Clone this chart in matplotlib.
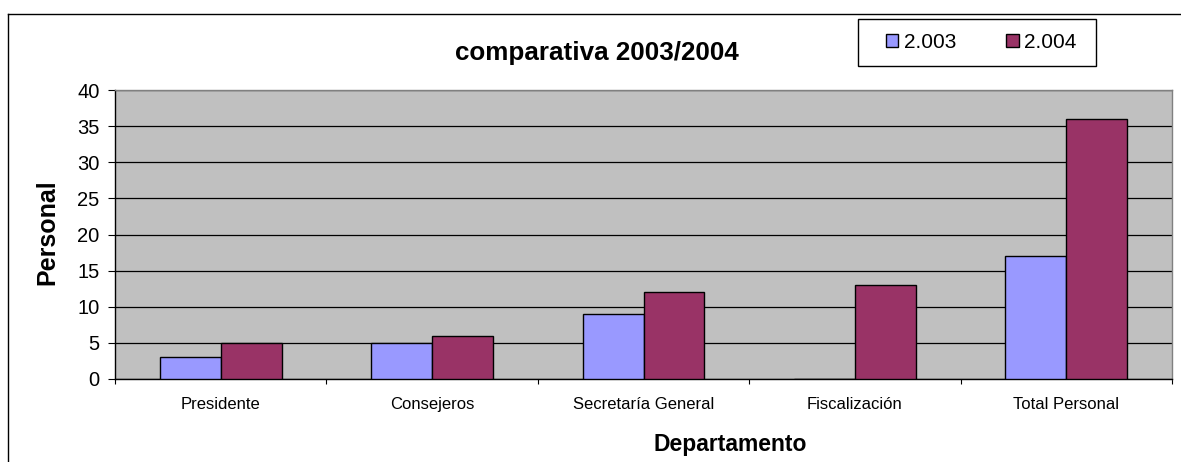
import matplotlib
matplotlib.use("Agg")
import matplotlib.pyplot as plt
import numpy as np
from matplotlib.lines import Line2D
from matplotlib.patches import Rectangle

plt.rcParams['font.family'] = ['Liberation Sans', 'DejaVu Sans']

categories = ["Presidente", "Consejeros", "Secretaría General", "Fiscalización", "Total Personal"]
series_names = ["2.003", "2.004"]
values_2003 = [3, 5, 9, 0, 17]
values_2004 = [5, 6, 12, 13, 36]
yticks = [0, 5, 10, 15, 20, 25, 30, 35, 40]

W, H = 1181, 462
fig = plt.figure(figsize=(W / 100, H / 100), dpi=100)
fig.patch.set_facecolor("white")

# outer chart border (top and left visible)
fig.add_artist(Line2D([8 / W, 1.0], [1 - 14 / H, 1 - 14 / H], color="black", lw=1.0, transform=fig.transFigure))
fig.add_artist(Line2D([8 / W, 8 / W], [0, 1 - 14 / H], color="black", lw=1.0, transform=fig.transFigure))

x0, x1, y0, y1 = 115, 1172, 90, 379
ax = fig.add_axes([x0 / W, 1 - y1 / H, (x1 - x0) / W, (y1 - y0) / H])
ax.set_facecolor("#C0C0C0")

x = np.arange(len(categories))
bw = 0.288
ax.bar(x - bw / 2, values_2003, bw, color="#9999FF", edgecolor="black", linewidth=1.0, label=series_names[0], zorder=3)
ax.bar(x + bw / 2, values_2004, bw, color="#993366", edgecolor="black", linewidth=1.0, label=series_names[1], zorder=3)

ax.set_xlim(-0.5, len(categories) - 0.5)
ax.set_ylim(0, 40)
ax.set_yticks(yticks)
ax.set_yticklabels([str(t) for t in yticks], fontsize=14.5)
ax.yaxis.grid(True, color="black", linewidth=0.9, zorder=1)
ax.set_axisbelow(True)

ax.set_xticks(np.arange(len(categories) + 1) - 0.5, minor=False)
ax.set_xticklabels([])
ax.set_xticks(x, minor=True)
ax.set_xticklabels(categories, minor=True, fontsize=12)
ax.tick_params(axis="x", which="minor", length=0, pad=13)
ax.tick_params(axis="x", which="major", length=3.5, direction="out", color="black")
ax.tick_params(axis="y", length=5, direction="out", color="black", pad=6)

for s in ["top", "right"]:
    ax.spines[s].set_color("#808080")
    ax.spines[s].set_linewidth(1.0)
for s in ["left", "bottom"]:
    ax.spines[s].set_color("black")
    ax.spines[s].set_linewidth(1.0)

aw, ah = x1 - x0, y1 - y0
ax.set_ylabel("Personal", fontsize=18, fontweight="bold", va="center", ha="center")
ax.yaxis.set_label_coords((47 - x0) / aw, (y1 - 232) / ah)
ax.set_xlabel("Departamento", fontsize=16.5, fontweight="bold", va="center", ha="center")
ax.xaxis.set_label_coords((730 - x0) / aw, (y1 - 444) / ah)

fig.text(597 / W, 1 - 53 / H, "comparativa 2003/2004", ha="center", va="center", fontsize=18.7, fontweight="bold")

# legend box
fig.add_artist(Rectangle((858 / W, 1 - 66 / H), (1096 - 858) / W, (66 - 19) / H,
                         transform=fig.transFigure, facecolor="white", edgecolor="black", lw=1.0, zorder=4))
leg = fig.legend(loc="center", bbox_to_anchor=(981 / W, 1 - 42.5 / H), ncol=2, frameon=False,
                 fontsize=15, handlelength=0.6, handleheight=0.6, handletextpad=0.25, columnspacing=2.4,
                 borderpad=0.7)
leg.set_zorder(5)

fig.savefig("out.png", dpi=100)
